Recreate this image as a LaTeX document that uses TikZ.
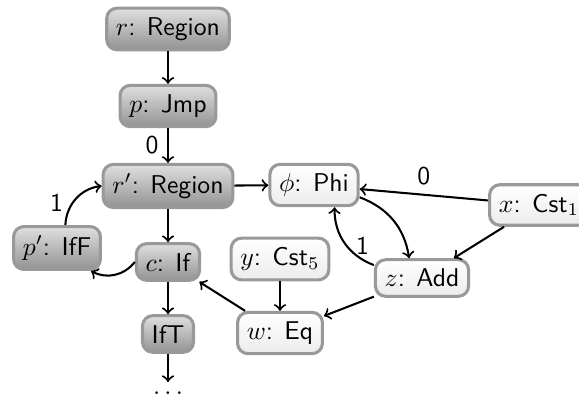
\documentclass[tikz,border=0pt]{standalone}
\begin{document}
\begin{tikzpicture}[x=0.389pt,y=0.389pt,thick,>=to,font=\sffamily,
    darkop/.style={draw=gray!80,line width=1.2pt,rounded corners=4pt,
      top color=gray!25,bottom color=gray!85,inner sep=3.6pt},
    lightop/.style={draw=gray!80,line width=1.2pt,rounded corners=4pt,
      top color=white,bottom color=gray!15,inner sep=3.6pt}]
  \useasboundingbox (0,0) rectangle (579,-403);
  \node[darkop] (r) at (168,-29) {$r$: Region};
  \node[darkop] (p) at (168,-106) {$p$: Jmp};
  \node[darkop] (rr) at (168,-186) {$r'$: Region};
  \node[lightop] (phi) at (314,-185) {$\phi$: Phi};
  \node[lightop] (x) at (539,-205) {$x$: Cst$_1$};
  \node[darkop] (pp) at (57,-248) {$p'$: IfF};
  \node[darkop] (c) at (168,-262) {$c$: If};
  \node[lightop] (y) at (280,-259) {$y$: Cst$_5$};
  \node[lightop] (z) at (422,-278) {$z$: Add};
  \node[darkop] (ift) at (168,-334) {IfT};
  \node[lightop] (w) at (280,-333) {$w$: Eq};
  \node (dots) at (168,-393) {$\dots$};
  \draw[->](r)--(p);
  \draw[->](p)--node[left]{0}(rr);
  \draw[->](rr)--(phi);
  \draw[->](rr)--(c);
  \draw[->](c.west) to[bend left=40] (pp.-34);
  \draw[->](pp.70) to[bend left=40] node[left,pos=0.4]{1} (rr.west);
  \draw[->](c)--(ift);
  \draw[->](ift)--(dots);
  \draw[->](y)--(w);
  \draw[->](w)--(c);
  \draw[->](z)--(w);
  \draw[->](x)--(z);
  \draw[->](x)--node[above]{0}(phi);
  \draw[->](phi.-15) to[bend left=30] ([xshift=-5]z.north);
  \draw[->](z.165) to[bend left=35] node[right,pos=0.45]{1} ([xshift=8]phi.south);
\end{tikzpicture}
\end{document}
